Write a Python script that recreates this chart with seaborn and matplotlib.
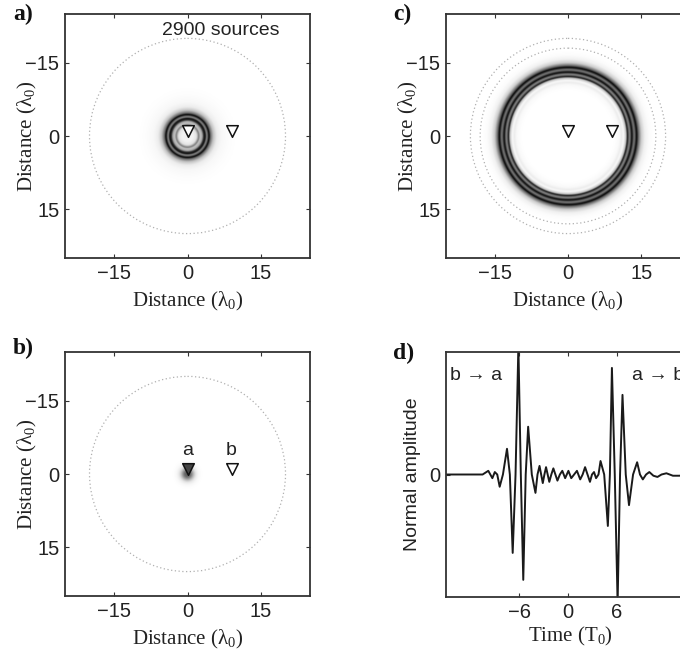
import numpy as np
import pandas as pd
import matplotlib
matplotlib.use("Agg")
import matplotlib.pyplot as plt
import seaborn as sns
from matplotlib.patches import Circle

# ---------------- data ----------------
dist_ticks = [-15, 0, 15]
dist_ticklabels = ["\u221215", "0", "15"]
time_ticks = [-6, 0, 6]
time_ticklabels = ["\u22126", "0", "6"]

receiver_x = [0, 9]
receiver_y = [-1, -1]
receiver_names = ["a", "b"]

source_ring_a = [20]
source_ring_b = [20]
source_ring_c = [18, 20]

# radial darkness profiles (0 = white, 1 = black)
prof_a_r = [0.0, 1.0, 1.8, 2.3, 2.6, 3.0, 3.3, 3.6, 3.95, 4.4, 4.8, 5.3, 6.0, 7.0, 8.5, 10.0]
prof_a_v = [0.15, 0.10, 0.20, 0.60, 0.35, 0.45, 0.85, 0.95, 0.55, 0.98, 0.60, 0.35, 0.15, 0.06, 0.02, 0.0]

prof_b_r = [0.0, 0.6, 1.2, 1.7, 2.3, 3.0]
prof_b_v = [0.75, 0.65, 0.40, 0.18, 0.05, 0.0]

prof_c_r = [0.0, 9.5, 10.5, 11.0, 11.4, 11.9, 12.2, 12.65, 13.1, 13.6, 14.1, 14.55, 15.1, 15.8, 16.6, 17.5]
prof_c_v = [0.0, 0.0, 0.05, 0.15, 0.06, 0.35, 0.92, 0.55, 0.97, 0.60, 0.98, 0.60, 0.30, 0.12, 0.03, 0.0]

wave_t = [-15, -10.5, -9.8, -9.55, -9.3, -9.0, -8.7, -8.4, -8.0, -7.5, -7.15, -6.8, -6.45,
          -6.1, -5.8, -5.5, -5.2, -4.9, -4.45, -4.0, -3.75, -3.5, -3.3, -3.1, -2.9, -2.7,
          -2.5, -2.3, -2.05, -1.8, -1.55, -1.3, -1.0, -0.7, -0.35, 0.05, 0.4, 0.75, 1.1,
          1.5, 1.8, 2.1, 2.4, 2.7, 2.95, 3.2, 3.45, 3.75, 4.0, 4.45, 4.9, 5.15, 5.4, 5.75,
          6.1, 6.4, 6.7, 7.1, 7.5, 8.0, 8.5, 8.85, 9.2, 9.6, 10.0, 10.5, 11.0, 11.5, 12.1,
          12.9, 13.7, 15]
wave_amp = [0.0, 0.0, 0.03, 0.0, -0.03, 0.02, 0.0, -0.10, 0.0, 0.21, 0.0, -0.64, 0.0,
            1.05, 0.0, -0.86, 0.0, 0.39, 0.0, -0.15, 0.0, 0.07, 0.0, -0.07, 0.0, 0.06,
            0.0, -0.06, 0.0, 0.05, 0.0, -0.05, 0.0, 0.03, -0.03, 0.03, -0.03, 0.0, 0.03,
            -0.04, 0.0, 0.06, 0.0, -0.06, 0.0, 0.02, -0.03, 0.0, 0.11, 0.0, -0.42, 0.0, 0.87, 0.0,
            -1.05, 0.0, 0.65, 0.0, -0.25, 0.0, 0.10, 0.0, -0.04, 0.0, 0.02, -0.01, -0.02, 0.0, 0.01,
            -0.01, -0.01, 0.0]

# ---------------- style ----------------
sns.set_style("ticks")
plt.rcParams["font.family"] = ["Liberation Sans", "DejaVu Sans"]
plt.rcParams["mathtext.fontset"] = "custom"
plt.rcParams["mathtext.rm"] = "Liberation Serif"
plt.rcParams["mathtext.it"] = "Liberation Serif:italic"

SPINE = "#333333"
TXT = "#222222"
TICK_FS = 14.5
LAB_FS = 15
SERIF = ["Liberation Serif", "DejaVu Serif"]

fig = plt.figure(figsize=(6.8, 6.54), dpi=100)
W, H = 680.0, 654.0


def add_axes_px(left, top, width, height):
    return fig.add_axes([left / W, (H - top - height) / H, width / W, height / H])


def style_axes(ax):
    for s in ax.spines.values():
        s.set_color(SPINE)
        s.set_linewidth(1.3)
    ax.tick_params(direction="in", length=3, width=0.8, color=SPINE,
                   top=True, right=True, labelsize=TICK_FS, labelcolor=TXT, pad=4)


def map_panel(ax, r_nodes, v_nodes, rings):
    grid = np.linspace(-25, 25, 501)
    X, Y = np.meshgrid(grid, grid)
    R = np.hypot(X, Y)
    Z = np.interp(R, r_nodes, v_nodes, right=0.0)
    ax.imshow(Z, cmap="Greys", vmin=0, vmax=1, extent=[-25, 25, 25, -25],
              interpolation="bilinear", zorder=0)
    for rr in rings:
        ax.add_patch(Circle((0, 0), rr, fill=False, ls=(0, (1, 2)),
                            color="#b0b0b0", lw=0.9, zorder=1))
    ax.set_xlim(-25, 25)
    ax.set_ylim(25, -25)
    ax.set_xticks(dist_ticks)
    ax.set_xticklabels(dist_ticklabels)
    ax.set_yticks(dist_ticks)
    ax.set_yticklabels(dist_ticklabels)
    ax.set_xlabel("Distance (\u03bb$_0$)", fontsize=LAB_FS, family=SERIF, color=TXT)
    ax.xaxis.label.set_va("center")
    ax.xaxis.set_label_coords(0.5, -0.18)
    ax.set_ylabel("Distance (\u03bb$_0$)", fontsize=LAB_FS, family=SERIF, color=TXT)
    ax.yaxis.label.set_va("center")
    ax.yaxis.set_label_coords(-0.155, 0.5)
    ax.set_aspect("auto")
    style_axes(ax)


def receivers(ax, face):
    df = pd.DataFrame({"x": receiver_x, "y": receiver_y, "f": face})
    for _, row in df.iterrows():
        sns.scatterplot(x=[row.x], y=[row.y], ax=ax, marker="v", s=70,
                        color=row.f, edgecolor="#111111", linewidth=1.1, zorder=3,
                        legend=False)


# panel a
ax_a = add_axes_px(65, 14, 245, 244)
map_panel(ax_a, prof_a_r, prof_a_v, source_ring_a)
receivers(ax_a, ["white", "white"])
ax_a.text(6.8, -21.6, "2900 sources", fontsize=14, ha="center", va="center", color=TXT)

# panel c
ax_c = add_axes_px(446, 14, 244, 244)
map_panel(ax_c, prof_c_r, prof_c_v, source_ring_c)
receivers(ax_c, ["white", "white"])

# panel b
ax_b = add_axes_px(65, 352, 245, 244)
map_panel(ax_b, prof_b_r, prof_b_v, source_ring_b)
receivers(ax_b, ["#444444", "white"])
for x, nm in zip(receiver_x, receiver_names):
    ax_b.text(x, -4.8, nm, fontsize=14, ha="center", va="center", color=TXT)

# panel d
ax_d = add_axes_px(446, 352, 244, 245)
wave = pd.DataFrame({"t": wave_t, "amp": wave_amp})
sns.lineplot(data=wave, x="t", y="amp", ax=ax_d, sort=False, color="#1a1a1a", lw=1.4,
             solid_joinstyle="round")
ax_d.set_xlim(-15, 15)
ax_d.set_ylim(-1, 1)
ax_d.set_xticks(time_ticks)
ax_d.set_xticklabels(time_ticklabels)
ax_d.set_yticks([0])
ax_d.set_yticklabels(["0"])
ax_d.set_xlabel("Time (T$_0$)", fontsize=LAB_FS, family=SERIF, color=TXT)
ax_d.xaxis.label.set_va("center")
ax_d.xaxis.set_label_coords(0.51, -0.163)
ax_d.set_ylabel("Normal amplitude", fontsize=14, color=TXT)
ax_d.yaxis.label.set_va("center")
ax_d.yaxis.set_label_coords(-0.139, 0.5)
style_axes(ax_d)
ax_d.text(0.016, 0.905, "b \u2192 a", transform=ax_d.transAxes, fontsize=14,
          ha="left", va="center", color=TXT)
ax_d.text(0.762, 0.905, "a \u2192 b", transform=ax_d.transAxes, fontsize=14,
          ha="left", va="center", color=TXT)

# panel letters
for x, y, s in [(13, 14, "a)"), (393, 14, "c)"), (13, 348, "b)"), (393, 353, "d)")]:
    fig.text(x / W, 1 - y / H, s, fontsize=17, fontweight="bold", family=SERIF,
             ha="left", va="center", color="#111111")

fig.savefig("out.png", dpi=100)
